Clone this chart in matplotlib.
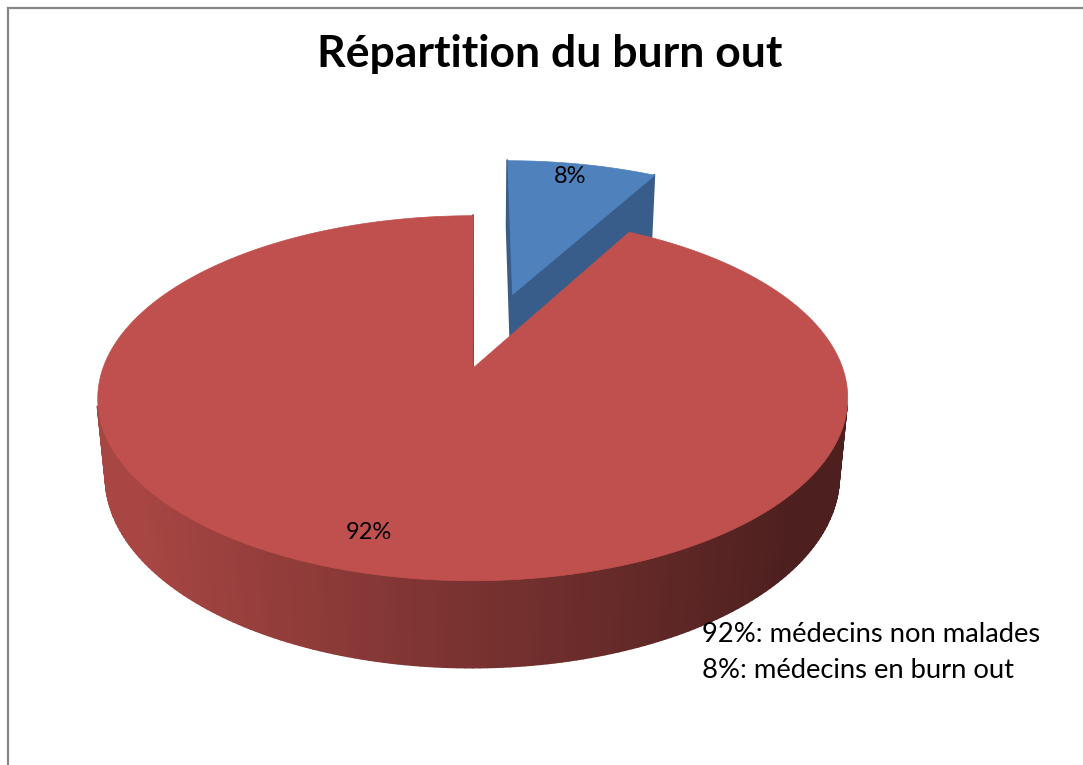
"""
3D exploded pie: burn out among doctors (Excel-like perspective pie).
"""

import matplotlib.pyplot as plt
import numpy as np
from matplotlib.collections import PolyCollection
from matplotlib.colors import to_rgb


labels = ["médecins en burn out", "médecins non malades"]
values = [8, 92]
top_colors = ["#4F81BD", "#C0504D"]
cut_colors = ["#385D8A", "#8A3532"]
title = "Répartition du burn out"

# camera / layout (pixels and pie-radius units)
ELEV = np.radians(28.5)
DIST = 5.4
FOCAL = 1985.0
CX, CY = 476.0, 361.0
THICK = 0.245
START = 90.0
EXPLODE = [0.42, 0.04]
LABEL_R = 0.85
LABEL_NUDGE = [(-3, -5), (-12, -4)]  # px, fine placement of % labels

CAM = np.array([0.0, -DIST * np.cos(ELEV), DIST * np.sin(ELEV)])


def project(x, y, z):
    """Perspective projection to pixel coordinates."""
    yc = y * np.sin(ELEV) + z * np.cos(ELEV)
    zc = y * np.cos(ELEV) - z * np.sin(ELEV) + DIST
    return CX + FOCAL * x / zc, CY - FOCAL * yc / zc


def visible(normal, point):
    return np.dot(normal, CAM - np.asarray(point)) > 0


def shade(color, f):
    return tuple(np.clip(np.array(to_rgb(color)) * f, 0, 1))


def slice_geometry(values):
    total = float(sum(values))
    out = []
    cum = 0.0
    for i, v in enumerate(values):
        a0 = START - cum / total * 360.0
        a1 = a0 - v / total * 360.0
        cum += v
        mid = np.radians((a0 + a1) / 2)
        c = np.array([EXPLODE[i] * np.cos(mid), EXPLODE[i] * np.sin(mid)])
        out.append((a0, a1, mid, c))
    return out


fig = plt.figure(figsize=(10.83, 7.65), dpi=100)
plt.rcParams["font.family"] = ["Lato", "DejaVu Sans"]
ax = fig.add_axes([0, 0, 1, 1])
ax.set_xlim(0, 1083)
ax.set_ylim(765, 0)
ax.axis("off")

geo = slice_geometry(values)
# farthest slice first
order = sorted(range(len(values)), key=lambda i: -geo[i][3][1])

for i in order:
    a0, a1, mid, c = geo[i]
    n = max(int(abs(a0 - a1) / 1.0), 4)
    phis = np.radians(np.linspace(a0, a1, n + 1))
    cx_, cy_ = c

    polys, cols = [], []
    # outer wall strips
    for p0, p1 in zip(phis[:-1], phis[1:]):
        pm = (p0 + p1) / 2
        nrm = np.array([np.cos(pm), np.sin(pm), 0.0])
        pt = [cx_ + np.cos(pm), cy_ + np.sin(pm), -THICK / 2]
        if not visible(nrm, pt):
            continue
        quad = [
            project(cx_ + np.cos(p0), cy_ + np.sin(p0), 0.0),
            project(cx_ + np.cos(p1), cy_ + np.sin(p1), 0.0),
            project(cx_ + np.cos(p1), cy_ + np.sin(p1), -THICK),
            project(cx_ + np.cos(p0), cy_ + np.sin(p0), -THICK),
        ]
        f = np.clip(0.63 - 0.30 * np.cos(pm), 0.40, 0.87)
        polys.append(quad)
        cols.append(shade(top_colors[i], f))

    # radial cut faces
    for ang, side in ((a0, 90.0), (a1, -90.0)):
        ar = np.radians(ang)
        na = np.radians(ang + side)
        nrm = np.array([np.cos(na), np.sin(na), 0.0])
        pt = [cx_ + 0.5 * np.cos(ar), cy_ + 0.5 * np.sin(ar), -THICK / 2]
        if not visible(nrm, pt):
            continue
        quad = [
            project(cx_, cy_, 0.0),
            project(cx_ + np.cos(ar), cy_ + np.sin(ar), 0.0),
            project(cx_ + np.cos(ar), cy_ + np.sin(ar), -THICK),
            project(cx_, cy_, -THICK),
        ]
        polys.append(quad)
        cols.append(to_rgb(cut_colors[i]))

    if polys:
        ax.add_collection(PolyCollection(polys, facecolors=cols, edgecolors=cols, linewidths=1.4))

    # top face
    top = [project(cx_, cy_, 0.0)] + [project(cx_ + np.cos(p), cy_ + np.sin(p), 0.0) for p in phis]
    ax.add_collection(PolyCollection([top], facecolors=top_colors[i], edgecolors=top_colors[i], linewidths=0.5))

# percentage labels on top faces
total = sum(values)
for i, v in enumerate(values):
    a0, a1, mid, c = geo[i]
    lx, ly = project(c[0] + LABEL_R * np.cos(mid), c[1] + LABEL_R * np.sin(mid), 0.0)
    dx, dy = LABEL_NUDGE[i]
    ax.text(lx + dx, ly + dy, f"{v / total * 100:.0f}%",
            ha="center", va="center", fontsize=17, color="black")

# title
ax.text(550, 67, title, ha="center", va="baseline", fontsize=32, fontweight="bold", color="black")

# text legend (largest first)
for k, i in enumerate(sorted(range(len(values)), key=lambda j: -values[j])):
    ax.text(702, 642 + 36 * k, f"{values[i]}%: {labels[i]}", ha="left", va="baseline",
            fontsize=19.7, color="black")

# chart frame (only top and left edges are in view)
ax.plot([8, 8, 1100], [800, 8, 8], color="#868686", lw=1.6, solid_joinstyle="miter")

fig.savefig("out.png", dpi=100)
